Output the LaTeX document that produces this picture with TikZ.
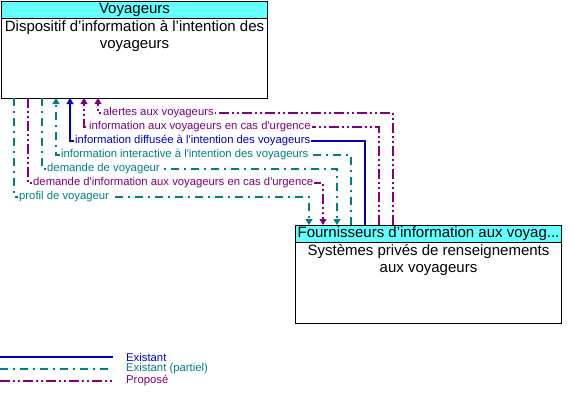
\documentclass[tikz,border=0pt]{standalone}
\usepackage{fontspec}
\setmainfont{Liberation Sans}
\usetikzlibrary{positioning,arrows.meta}

\definecolor{headcyan}{RGB}{102,255,255}
\definecolor{flowblue}{RGB}{0,0,200}
\definecolor{flowteal}{RGB}{0,128,128}
\definecolor{flowpurple}{RGB}{128,0,128}

\tikzset{
  box/.style={draw, line width=1pt, minimum width=266pt, anchor=north west, inner sep=0pt},
  head/.style={draw, line width=1pt, fill=headcyan, minimum width=266pt, minimum height=17pt,
    anchor=north west, inner sep=0pt, font=\fontsize{15}{17}\selectfont},
  body/.style={align=center, inner sep=1pt, anchor=north,
    font=\fontsize{15}{17}\selectfont},
  lbl/.style={fill=white, inner sep=1pt, anchor=west, font=\fontsize{11.3}{12}\selectfont},
  existant/.style={color=flowblue, line width=1.1pt},
  partiel/.style={color=flowteal, line width=1.1pt, dash pattern=on 8pt off 5pt on 2pt off 5pt},
  propose/.style={color=flowpurple, line width=1.1pt,
    dash pattern=on 10pt off 3pt on 2pt off 3pt on 2pt off 3pt},
  tip/.style={-{Triangle[width=7pt,length=6pt]}}
}

\begin{document}
\begin{tikzpicture}[x=1pt,y=-1pt]
  \useasboundingbox (0,0) rectangle (572,402);

  % the two elements
  \node[box, minimum height=97pt] (voy) at (1,1) {};
  \node[head] (voyh) at (voy.north west) {Voyageurs};
  \node[body] (voyt) [below=0pt of voyh] {Dispositif d’information à l’intention des\\voyageurs};

  \node[box, minimum height=98pt] (fsp) at (295,225) {};
  \node[head] (fsph) at (fsp.north west) {Fournisseurs d’information aux voyag...};
  \node[body] (fspt) [below=0pt of fsph] {Systèmes privés de renseignements\\aux voyageurs};

  % ends on the elements
  \coordinate (v1) at (98,98);  \coordinate (f1) at (393,225);
  \coordinate (v2) at (84,98);  \coordinate (f2) at (379,225);
  \coordinate (v3) at (70,98);  \coordinate (f3) at (365,225);
  \coordinate (v4) at (56,98);  \coordinate (f4) at (351,225);
  \coordinate (v5) at (42,98);  \coordinate (f5) at (337,225);
  \coordinate (v6) at (28,98);  \coordinate (f6) at (323,225);
  \coordinate (v7) at (14,98);  \coordinate (f7) at (309,225);

  % bends
  \coordinate (c1) at (98,113);
  \coordinate (c2) at (84,127);
  \coordinate (c3) at (70,141);
  \coordinate (c4) at (56,155);
  \coordinate (c5) at (42,169);  \coordinate (d5) at (337,169);
  \coordinate (c6) at (28,183);  \coordinate (d6) at (323,183);
  \coordinate (c7) at (14,197);  \coordinate (d7) at (309,197);

  \draw[propose,tip] (f1) |- (c1) -- (v1);
  \draw[propose,tip] (f2) |- (c2) -- (v2);
  \draw[existant,tip] (f3) |- (c3) -- (v3);
  \draw[partiel,tip] (f4) |- (c4) -- (v4);
  \draw[partiel,tip] (v5) |- (d5) -- (f5);
  \draw[propose,tip] (v6) |- (d6) -- (f6);
  \draw[partiel,tip] (v7) |- (d7) -- (f7);

  \node[lbl, text=flowpurple] (l1) [right=4pt of c1] {alertes aux voyageurs};
  \node[lbl, text=flowpurple] (l2) [right=4pt of c2] {information aux voyageurs en cas d\textquotesingle{}urgence};
  \node[lbl, text=flowblue] (l3) [right=4pt of c3] {information diffusée à l\textquotesingle{}intention des voyageurs};
  \node[lbl, text=flowteal] (l4) [right=4pt of c4] {information interactive à l\textquotesingle{}intention des voyageurs};
  \node[lbl, text=flowteal] (l5) [right=4pt of c5] {demande de voyageur};
  \node[lbl, text=flowpurple] (l6) [right=4pt of c6] {demande d\textquotesingle{}information aux voyageurs en cas d\textquotesingle{}urgence};
  \node[lbl, text=flowteal] (l7) [right=4pt of c7] {profil de voyageur};

  % legend
  \coordinate (la1) at (0,357);  \coordinate (lb1) at (113,357);
  \coordinate (la2) at (0,369);  \coordinate (lb2) at (113,369);
  \coordinate (la3) at (0,381);  \coordinate (lb3) at (113,381);
  \draw[existant] (la1) -- (lb1);
  \draw[partiel] (la2) -- (lb2);
  \draw[propose] (la3) -- (lb3);
  \node[lbl, text=flowblue] (lt1) [right=12pt of lb1] {Existant};
  \node[lbl, text=flowteal] (lt2) [right=12pt of lb2] {Existant (partiel)};
  \node[lbl, text=flowpurple] (lt3) [right=12pt of lb3] {Proposé};

\end{tikzpicture}
\end{document}
